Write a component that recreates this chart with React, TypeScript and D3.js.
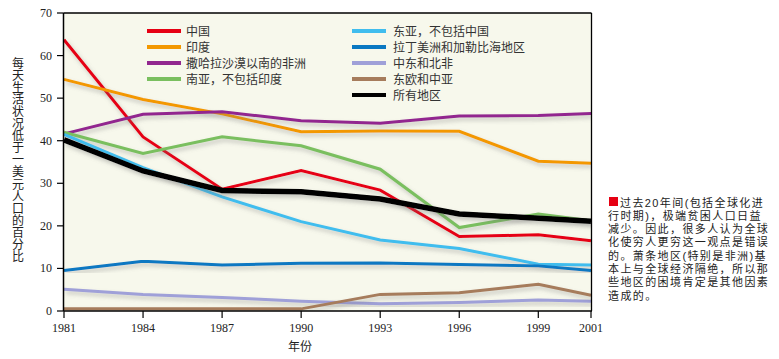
import React from "react";
import * as d3 from "d3";

const years = [1981, 1984, 1987, 1990, 1993, 1996, 1999, 2001];
const china = [63.7, 40.9, 28.6, 33.0, 28.4, 17.5, 17.9, 16.5];
const india = [54.4, 49.7, 46.3, 42.1, 42.3, 42.2, 35.2, 34.7];
const subSaharan = [41.6, 46.2, 46.8, 44.7, 44.1, 45.8, 45.9, 46.4];
const southAsia = [42.0, 37.0, 40.9, 38.8, 33.3, 19.6, 22.8, 21.2];
const eastAsia = [41.5, 33.7, 26.8, 21.0, 16.7, 14.7, 11.0, 10.8];
const latinAmerica = [9.5, 11.7, 10.8, 11.2, 11.3, 10.9, 10.6, 9.5];
const mena = [5.1, 3.9, 3.2, 2.3, 1.7, 2.0, 2.6, 2.3];
const eeca = [0.5, 0.5, 0.5, 0.5, 3.9, 4.3, 6.3, 3.7];
const allRegions = [40.2, 32.9, 28.3, 28.0, 26.3, 22.8, 21.8, 21.1];

const seriesNames = [
  "中国", "印度", "撒哈拉沙漠以南的非洲", "南亚，不包括印度",
  "东亚，不包括中国", "拉丁美洲和加勒比海地区", "中东和北非", "东欧和中亚", "所有地区",
];
const seriesValues = [china, india, subSaharan, southAsia, eastAsia, latinAmerica, mena, eeca, allRegions];
const seriesColors = ["#e60013", "#f39800", "#92278f", "#7abf5f", "#40bdee", "#0a78c2", "#9fa0d8", "#a67c5c", "#000000"];

const yTicks = [0, 10, 20, 30, 40, 50, 60, 70];
const xTicks = [1981, 1984, 1987, 1990, 1993, 1996, 1999, 2001];
const yTitle = "每天生活状况低于一美元人口的百分比";
const xTitle = "年份";
const noteLines = [
  "过去20年间(包括全球化进",
  "行时期)，极端贫困人口日益",
  "减少。因此，很多人认为全球",
  "化使穷人更穷这一观点是错误",
  "的。萧条地区(特别是非洲)基",
  "本上与全球经济隔绝，所以那",
  "些地区的困境肯定是其他因素",
  "造成的。",
];

const cjk = "'Noto Sans CJK SC', 'Noto Sans', sans-serif";
const noteFont = "'Liberation Sans', 'Noto Sans CJK SC', sans-serif";
const num = "'Liberation Serif', 'DejaVu Serif', serif";

export default function App() {
  const x = d3.scaleLinear().domain([1981, 2001]).range([64, 591]);
  const y = d3.scaleLinear().domain([0, 70]).range([311, 13]);
  const line = d3
    .line<[number, number]>()
    .x((d) => x(d[0]))
    .y((d) => y(d[1]));

  const legendPos = (i: number) =>
    i < 4 ? { lx: 147, tx: 186, ly: 31 + i * 16 } : { lx: 352, tx: 393, ly: 31 + (i - 4) * 16 };

  return (
    <div style={{ position: "absolute", left: 0, top: 0 }}>
      <svg width={779} height={359} style={{ display: "block", background: "#fff" }}>
        <defs>
          <filter id="sh" x="-10%" y="-10%" width="120%" height="130%">
            <feDropShadow dx="2" dy="3" stdDeviation="2" floodColor="#777" floodOpacity="0.4" />
          </filter>
          <clipPath id="clip">
            <rect x={64} y={13} width={527} height={298} />
          </clipPath>
        </defs>
        <rect x={64} y={13} width={527} height={298} fill="#f7f8ec" />
        {/* legend */}
        {seriesNames.map((n, i) => {
          const p = legendPos(i);
          return (
            <g key={n}>
              <line x1={p.lx} x2={p.lx + 34} y1={p.ly} y2={p.ly} stroke={seriesColors[i]} strokeWidth={4} />
              <text x={p.tx} y={p.ly + 4.5} fontSize={12} fontFamily={cjk} fill="#333">
                {n}
              </text>
            </g>
          );
        })}
        <g clipPath="url(#clip)">
          {seriesValues.map((vals, i) => (
            <path
              key={i}
              d={line(years.map((yr, j) => [yr, vals[j]]) as [number, number][]) || ""}
              fill="none"
              stroke={seriesColors[i]}
              strokeWidth={i === 8 ? 5.5 : 3}
              strokeLinejoin="miter"
              filter="url(#sh)"
            />
          ))}
        </g>
        {/* frame */}
        <line x1={63.5} x2={591.5} y1={13} y2={13} stroke="#000" strokeWidth={1.3} />
        <line x1={591.5} x2={591.5} y1={13} y2={311} stroke="#000" strokeWidth={1.3} />
        <line x1={63.5} x2={63.5} y1={13} y2={311} stroke="#000" strokeWidth={1.5} />
        <line x1={63.5} x2={592} y1={311} y2={311} stroke="#000" strokeWidth={1.5} />
        {/* y axis */}
        {yTicks.map((t) => (
          <g key={t}>
            <line x1={57} x2={63.5} y1={y(t)} y2={y(t)} stroke="#000" strokeWidth={1.2} />
            <text x={52} y={y(t) + 4} textAnchor="end" fontSize={12} fontFamily={num} fill="#222">
              {t}
            </text>
          </g>
        ))}
        {/* x axis */}
        {xTicks.map((t) => (
          <g key={t}>
            <line x1={x(t)} x2={x(t)} y1={311} y2={318} stroke="#000" strokeWidth={1.2} />
            <text x={x(t)} y={332} textAnchor="middle" fontSize={12} fontFamily={num} fill="#222">
              {t}
            </text>
          </g>
        ))}
        <text x={300} y={351} textAnchor="middle" fontSize={12} fontFamily={cjk} fill="#222">
          {xTitle}
        </text>
        {/* y title, vertical */}
        <text
          x={18}
          y={57}
          fontSize={12}
          fontFamily={cjk}
          fill="#222"
          style={{ writingMode: "vertical-rl", letterSpacing: "0.1px" }}
        >
          {yTitle}
        </text>
        {/* note */}
        <rect x={609} y={197} width={9} height={9} fill="#e60013" />
        <text fontSize={11} fontFamily={noteFont} fill="#222" style={{ letterSpacing: "1.4px" }}>
          {noteLines.map((l, i) => (
            <tspan key={i} x={i === 0 ? 620 : 608} y={206.5 + i * 13.3}>
              {l}
            </tspan>
          ))}
        </text>
      </svg>
    </div>
  );
}
